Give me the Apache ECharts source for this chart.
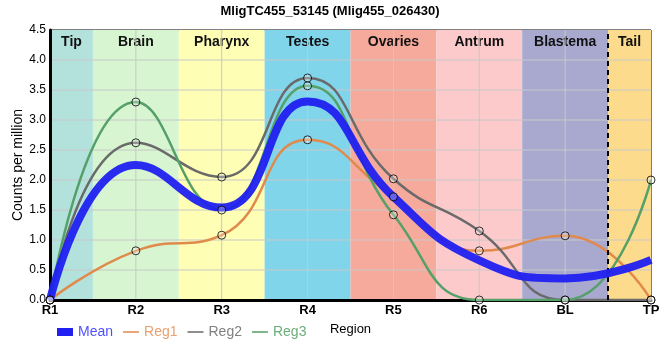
<!DOCTYPE html>
<html><head><meta charset="utf-8">
<script src="https://cdn.jsdelivr.net/npm/echarts@6/dist/echarts.min.js"></script>
<style>html,body{margin:0;padding:0;background:#fff}#c{width:660px;height:360px}</style>
</head><body><div id="c"></div>
<script>
var categories = ['R1','R2','R3','R4','R5','R6','BL','TP'];
var meanVals = [0, 2.25, 1.54, 3.31, 1.72, 0.66, 0.36, 0.67];
var reg1Vals = [0, 0.82, 1.08, 2.67, 1.72, 0.82, 1.07, 0];
var reg2Vals = [0, 2.62, 2.05, 3.70, 2.02, 1.15, 0, 0];
var reg3Vals = [0, 3.30, 1.50, 3.57, 1.42, 0, 0, 2.00];
var bandNames = ['Tip','Brain','Pharynx','Testes','Ovaries','Antrum','Blastema','Tail'];
var bandStarts = [0, 0.5, 1.5, 2.5, 3.5, 4.5, 5.5, 6.5];
var bandEnds = [0.5, 1.5, 2.5, 3.5, 4.5, 5.5, 6.5, 7];
var bandColors = ['#b3e2dd','#d6f5d0','#fefeb5','#80d5eb','#f5aa9c','#fdcacb','#a9a8cf','#fddb8c'];
var yTicks = [0, 0.5, 1.0, 1.5, 2.0, 2.5, 3.0, 3.5, 4.0, 4.5];
var tailDivider = 6.5;

function pairs(v){ return v.map(function(y,i){ return [i,y]; }); }
var font = 'Liberation Sans, Arial, sans-serif';
var gridCol = '#c8c8c8';
var lineIcon = 'path://M0,0 L0.01,0 L0.01,0.01 L0,0.01 Z M0,3.2 L16,3.2 L16,4.8 L0,4.8 Z M15.99,7.99 L16,7.99 L16,8 L15.99,8 Z';
var xMax = categories.length - 1;
var yMax = yTicks[yTicks.length-1];

var bandData = bandNames.map(function(n,i){
  return [{name:n, xAxis:bandStarts[i], yAxis:yMax, itemStyle:{color:bandColors[i]}},
          {xAxis:bandEnds[i], yAxis:yTicks[0]}];
});
var gridData = [];
yTicks.slice(1, -1).forEach(function(t){ gridData.push([0, t]); });
categories.slice(1, -1).forEach(function(c,i){ gridData.push([1, i+1]); });

var series = [
  {name:'bands', type:'line', data:[], z:1, silent:true,
   markArea:{silent:true, z:1, data:bandData,
     label:{show:true, position:'insideTop', distance:5, fontFamily:font, fontWeight:'bold', fontSize:14, color:'#111'}}
  },
  {name:'gridlines', type:'custom', z:3, silent:true, data:gridData,
   renderItem:function(params, api){
     var o = api.value(0), v = api.value(1), p1, p2;
     if (o === 0) { p1 = api.coord([0, v]); p2 = api.coord([xMax, v]); }
     else { p1 = api.coord([v, 0]); p2 = api.coord([v, yMax]); }
     return {type:'line', shape:{x1:p1[0], y1:p1[1], x2:p2[0], y2:p2[1]},
             style:{stroke:gridCol, lineWidth:1}};
   }},
  {name:'divider', type:'line', data:[], z:3, silent:true,
   markLine:{silent:true, symbol:'none', data:[{xAxis:tailDivider}], label:{show:false},
     lineStyle:{color:'#000', type:[5,4], width:2}}
  },
  {name:'Reg1', type:'line', smooth:0.5, symbol:'none', data:pairs(reg1Vals), z:4,
   lineStyle:{color:'#e08a4c', width:2.5}, itemStyle:{color:'#e08a4c'}},
  {name:'Reg2', type:'line', smooth:0.5, symbol:'none', data:pairs(reg2Vals), z:4,
   lineStyle:{color:'#6a6a6a', width:2.5}, itemStyle:{color:'#6a6a6a'}},
  {name:'Reg3', type:'line', smooth:0.5, symbol:'none', data:pairs(reg3Vals), z:4,
   lineStyle:{color:'#55a068', width:2.5}, itemStyle:{color:'#55a068'}},
  {name:'Mean', type:'line', smooth:0.5, symbol:'none', data:pairs(meanVals), z:5,
   lineStyle:{color:'#2020f0', width:8, opacity:0.95}, itemStyle:{color:'#2020f0'}}
];
[reg1Vals, reg2Vals, reg3Vals].forEach(function(v){
  series.push({type:'scatter', data:pairs(v), z:6, symbol:'circle', symbolSize:8, silent:true,
    itemStyle:{color:'rgba(255,255,255,0.35)', borderColor:'#000', borderWidth:1}});
});

var chart = echarts.init(document.getElementById('c'), null, {renderer:'canvas'});
chart.setOption({
  animation:false,
  title:{text:'MligTC455_53145 (Mlig455_026430)', left:'center', top:0,
    textStyle:{fontFamily:font, fontWeight:'bold', fontSize:13, color:'#000'}},
  grid:{left:50, right:9, top:30, bottom:60, outerBoundsMode:'none', containLabel:false,
    show:true, borderColor:'#000', borderWidth:1, backgroundColor:'transparent'},
  legend:{left:52, top:320, itemWidth:16, itemHeight:8, itemGap:10,
    textStyle:{fontFamily:font, fontSize:14},
    data:[{name:'Mean', icon:'rect', textStyle:{color:'#5050ff'}},
          {name:'Reg1', icon:lineIcon, textStyle:{color:'#e8a070'}},
          {name:'Reg2', icon:lineIcon, textStyle:{color:'#808080'}},
          {name:'Reg3', icon:lineIcon, textStyle:{color:'#6cae7c'}}]},
  xAxis:{type:'value', min:0, max:xMax, interval:1, z:3,
    name:'Region', nameLocation:'middle', nameGap:23,
    nameTextStyle:{fontFamily:font, fontSize:13, color:'#000'},
    axisLine:{show:true, lineStyle:{color:'#000', width:3}},
    axisTick:{show:false},
    axisLabel:{margin:4, fontFamily:font, fontWeight:'bold', fontSize:13, color:'#000',
      formatter:function(v){ return categories[v] || ''; }},
    splitLine:{show:false}},
  yAxis:{type:'value', min:yTicks[0], max:yMax, interval:0.5, z:3,
    name:'Counts per million', nameLocation:'middle', nameGap:25, nameMoveOverlap:false,
    nameTextStyle:{fontFamily:font, fontSize:14, color:'#000'},
    axisLine:{show:true, lineStyle:{color:'#000', width:3}},
    axisTick:{show:false},
    axisLabel:{margin:4, fontFamily:font, fontSize:12, color:'#000',
      formatter:function(v){ return v.toFixed(1); }},
    splitLine:{show:false}},
  series:series
});
</script></body></html>
